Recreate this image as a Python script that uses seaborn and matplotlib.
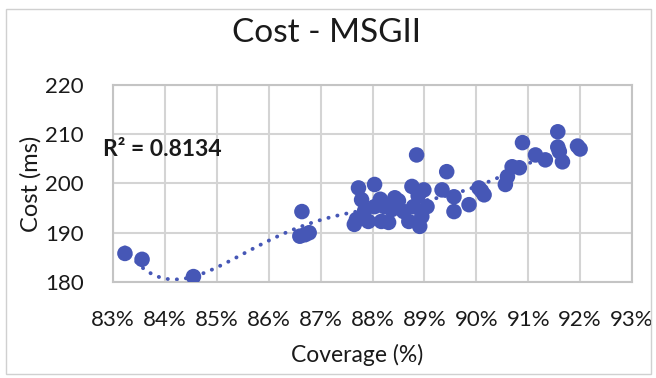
import matplotlib
matplotlib.use("Agg")
import matplotlib.pyplot as plt
import matplotlib.ticker as mticker
from matplotlib.patches import Rectangle
import numpy as np
import pandas as pd
import seaborn as sns

# Coverage (%) and cost (ms) per run
coverage = [83.23, 83.56, 84.55, 86.64, 86.60, 86.78, 86.70,
            87.65, 87.73, 87.79, 87.69, 87.85, 87.92, 88.04, 88.04,
            88.15, 88.17, 88.23, 88.31, 88.37, 88.43, 88.50, 88.60,
            88.70, 88.76, 88.79, 88.85, 88.88, 88.91, 88.95, 88.99,
            89.05, 89.34, 89.43, 89.57, 89.57, 89.86, 90.05, 90.10,
            90.15, 90.56, 90.60, 90.69, 90.83, 90.89, 91.14, 91.33,
            91.57, 91.57, 91.60, 91.66, 91.95, 92.00]
cost = [185.8, 184.6, 181.1, 194.3, 189.3, 190.0, 189.6,
        191.7, 199.1, 196.7, 192.7, 194.5, 192.3, 199.8, 195.3,
        196.8, 192.3, 195.3, 192.1, 194.7, 197.1, 196.5, 194.3,
        192.3, 199.4, 195.3, 205.8, 197.5, 191.3, 193.3, 198.7,
        195.3, 198.7, 202.4, 197.3, 194.3, 195.7, 199.1, 198.5,
        197.7, 199.8, 201.4, 203.4, 203.2, 208.3, 205.8, 204.8,
        210.5, 207.4, 206.5, 204.4, 207.6, 207.0]

chart_title = "Cost - MSGII"
x_title = "Coverage (%)"
y_title = "Cost (ms)"
r2_label = "R² = 0.8134"
x_ticks = list(range(83, 94))
y_ticks = [180, 190, 200, 210, 220]

df = pd.DataFrame({"coverage": coverage, "cost": cost})

sns.set_theme(style="white")
plt.rcParams["font.family"] = ["Lato", "DejaVu Sans"]

W, H = 656, 378
fig = plt.figure(figsize=(W / 100, H / 100), dpi=100)
fig.patch.set_facecolor("white")

# chart-area frame
fig.add_artist(Rectangle((6 / W, 4 / H), 645 / W, 365 / H, transform=fig.transFigure,
                         fill=False, edgecolor="#d0d0d0", linewidth=1.0))

left, right, top, bottom = 113, 632, 85, 282
ax = fig.add_axes([left / W, 1 - bottom / H, (right - left) / W, (bottom - top) / H])

blue = "#4657b6"
grid_c = "#d4d4d4"

sns.scatterplot(data=df, x="coverage", y="cost", ax=ax, color=blue, s=125,
                edgecolor="none", zorder=3, legend=False)
# polynomial trendline, round-dotted
sns.regplot(data=df, x="coverage", y="cost", ax=ax, order=5, ci=None, scatter=False,
            truncate=True,
            line_kws=dict(color=blue, linestyle=(0, (0.05, 2.3)), linewidth=2.8,
                          dash_capstyle="round", zorder=2))

ax.set_xlim(83, 93)
ax.set_ylim(180, 220)
ax.set_xticks(x_ticks)
ax.set_yticks(y_ticks)
ax.xaxis.set_major_formatter(mticker.FuncFormatter(lambda v, p: f"{v:.0f}%"))
ax.grid(True, color=grid_c, linewidth=1.5)
ax.set_axisbelow(True)
for s in ax.spines.values():
    s.set_color("#c4c4c4")
    s.set_linewidth(1.5)
ax.tick_params(axis="both", length=0, labelsize=16, colors="#1a1a1a")
ax.tick_params(axis="x", pad=20)
ax.tick_params(axis="y", pad=21)
ax.set_xlabel("")
ax.set_ylabel("")

fig.text(327 / W, 1 - 33 / H, chart_title, ha="center", va="center",
         fontsize=24, color="#1a1a1a")
fig.text(357 / W, 1 - 355 / H, x_title, ha="center", va="center",
         fontsize=16.5, color="#1a1a1a")
fig.text(31 / W, 1 - 184 / H, y_title, ha="center", va="center", rotation=90,
         fontsize=17, color="#1a1a1a")
fig.text(103 / W, 1 - 150 / H, r2_label, ha="left", va="center",
         fontsize=16.5, fontweight="bold", color="#1a1a1a")

fig.savefig("out.png", dpi=100, facecolor="white")
